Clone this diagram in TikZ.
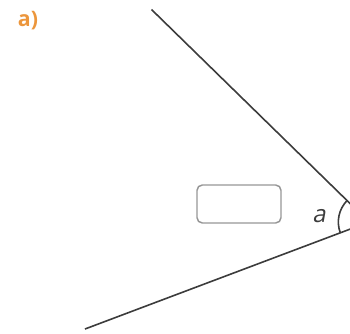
\documentclass[tikz,border=0pt]{standalone}
\usepackage{fontspec}
\setmainfont{Open Sans}
\newfontfamily\slantsans[FakeSlant=0.18]{Open Sans}
\usepackage{xcolor}
\usepackage{tikz}
\usetikzlibrary{angles}
\definecolor{labelorange}{RGB}{236,150,60}
\definecolor{linegray}{RGB}{60,60,60}
\definecolor{boxgray}{RGB}{150,150,150}

\begin{document}
\begin{tikzpicture}[x=0.75pt,y=-0.75pt]
            \useasboundingbox (0,0) rectangle (350,333);
            \clip (0,0) rectangle (350,333);
            \node[anchor=center,text=labelorange,font=\bfseries\fontsize{16}{18}\selectfont] (title) at (28,21) {a)};
            \coordinate (vertex) at (369,222);
            \coordinate (upend) at (151.5,9.5);
            \coordinate (lowend) at (85,329);
            \draw[linegray,line width=1.2pt] (upend) -- (vertex) -- (lowend);
            \draw[linegray,line width=1.2pt] pic[draw,angle radius=23pt] {angle=upend--vertex--lowend};
            \node[font=\slantsans\fontsize{18}{20}\selectfont,text=linegray] (alabel) at (319,216) {a};
            \node[draw=boxgray,line width=1.1pt,rounded corners=4pt,minimum width=63pt,minimum height=28.5pt] (answer) at (239,204) {};
        \end{tikzpicture}
\end{document}
